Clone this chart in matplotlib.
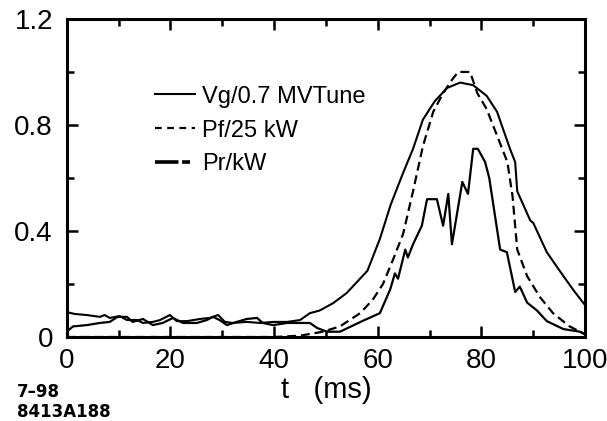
import matplotlib
matplotlib.use('Agg')
import matplotlib.pyplot as plt
from matplotlib.lines import Line2D
from matplotlib.ticker import MultipleLocator

plt.rcParams['font.family'] = ['Liberation Sans', 'DejaVu Sans']

# Vg/0.7 MV (solid, widest curve)
vg_t = [0, 1.5, 3.8, 6.4, 7.3, 8.3, 10.2, 11.6, 13.5, 14.7, 16.6, 18, 19.9, 21.2, 23.2, 25.7,
        27.6, 29.2, 30.5, 32, 34.7, 37.3, 39.8, 42.5, 45, 46.9, 48.8, 51.4, 54, 58, 60.4,
        62.5, 64.9, 66.8, 68.7, 71, 73.4, 75.9, 78.4, 81, 83, 85.5, 86.5, 86.9, 89.4, 90,
        92.6, 95.8, 98, 100]
vg_v = [0.094, 0.087, 0.083, 0.076, 0.083, 0.072, 0.079, 0.064, 0.064, 0.053, 0.057, 0.064,
        0.083, 0.06, 0.06, 0.068, 0.072, 0.083, 0.057, 0.053, 0.057, 0.053, 0.057, 0.057,
        0.064, 0.09, 0.10, 0.128, 0.166, 0.25, 0.37, 0.50, 0.62, 0.71, 0.82, 0.89, 0.94,
        0.96, 0.95, 0.91, 0.85, 0.71, 0.66, 0.55, 0.44, 0.43, 0.32, 0.23, 0.17, 0.12]

# Pf/25 kW (dashed)
pf_t = [0, 10, 20, 30, 40, 45, 49.4, 52.7, 56.6, 59, 61, 62.9, 64.9, 66.8, 68.7, 70.7, 72.6,
        74.3, 75.5, 77.8, 79.2, 81, 83, 85, 86, 86.9, 88.8, 91.3, 93.8, 97, 100]
pf_v = [0.0, 0.0, 0.0, 0.0, 0.0, 0.005, 0.02, 0.04, 0.09, 0.14, 0.20, 0.29, 0.39, 0.55,
        0.72, 0.85, 0.92, 0.97, 1.0, 1.0, 0.92, 0.86, 0.76, 0.66, 0.53, 0.33, 0.23, 0.15,
        0.09, 0.04, 0.01]

# Pr/kW (jagged)
pr_t = [0, 1.2, 3.9, 6.4, 8.3, 9.8, 11.6, 12.7, 14.7, 16.6, 18.5, 20.5, 22.4, 25.1, 27,
        28.2, 29.5, 30.9, 32.8, 34.7, 36.7, 37.8, 39.8, 42.5, 45, 46.9, 48.3, 50.2, 52.7,
        57, 60.4, 62.4, 63.3, 63.9, 65.3, 65.8, 66.8, 68.5, 69.5, 71.4, 72.6, 73.6, 74.3,
        76.3, 77.4, 78.4, 79.3, 80.7, 81.5, 83.6, 84.9, 86.5, 87.4, 88.8, 90.7, 92.6, 95.8,
        99, 100]
pr_v = [0.02, 0.04, 0.045, 0.053, 0.057, 0.076, 0.076, 0.057, 0.068, 0.045, 0.053, 0.072,
        0.053, 0.053, 0.064, 0.076, 0.064, 0.045, 0.057, 0.068, 0.072, 0.053, 0.045, 0.053,
        0.053, 0.053, 0.034, 0.02, 0.02, 0.06, 0.09, 0.18, 0.24, 0.22, 0.33, 0.30, 0.35,
        0.42, 0.52, 0.52, 0.42, 0.54, 0.35, 0.585, 0.54, 0.71, 0.71, 0.66, 0.60, 0.33, 0.32,
        0.17, 0.19, 0.13, 0.10, 0.06, 0.03, 0.02, 0.01]

labels = ['Vg/0.7 MVTune', 'Pf/25 kW', 'Pr/kW']

fig = plt.figure(figsize=(6.07, 4.21), dpi=100)
ax = fig.add_axes([0.110, 0.1995, 0.854, 0.7555])

ax.plot(vg_t, vg_v, color='black', lw=1.5)
ax.plot(pf_t, pf_v, color='black', lw=1.6, dashes=(4, 2.2))
ax.plot(pr_t, pr_v, color='black', lw=1.6)

# x axis
ax.set_xlim(0, 100)
ax.xaxis.set_major_locator(MultipleLocator(20))
ax.xaxis.set_minor_locator(MultipleLocator(10))
ax.set_xlabel('t   (ms)', fontsize=21, labelpad=1)

# y axis
ax.set_ylim(0, 1.2)
ax.set_yticks([0, 0.4, 0.8, 1.2])
ax.set_yticklabels(['0', '0.4', '0.8', '1.2'])
ax.yaxis.set_minor_locator(MultipleLocator(0.2))

ax.tick_params(which='both', direction='in', top=True, right=True, width=1.8)
ax.tick_params(which='major', length=8, labelsize=20)
ax.tick_params(which='minor', length=5)
ax.tick_params(axis='x', which='major', pad=8)
ax.tick_params(axis='y', which='major', pad=10)
for sp in ax.spines.values():
    sp.set_linewidth(2.2)

handles = [Line2D([], [], color='black', lw=1.5),
           Line2D([], [], color='black', lw=1.6, dashes=(3, 2.5)),
           Line2D([], [], color='black', lw=2.6, dashes=(6.5, 1, 2.2, 5))]
ax.legend(handles, labels, loc='upper left', bbox_to_anchor=(0.17, 0.79), frameon=False,
          fontsize=17, handlelength=1.7, handletextpad=0.3, labelspacing=0.5,
          borderpad=0, borderaxespad=0)

fig.text(0.028, 0.057, '7\u201398', fontsize=12, fontweight='bold',
         family='DejaVu Sans', va='baseline')
fig.text(0.028, 0.01, '8413A188', fontsize=12, fontweight='bold',
         family='DejaVu Sans', va='baseline')

plt.savefig('out.png', dpi=100)
